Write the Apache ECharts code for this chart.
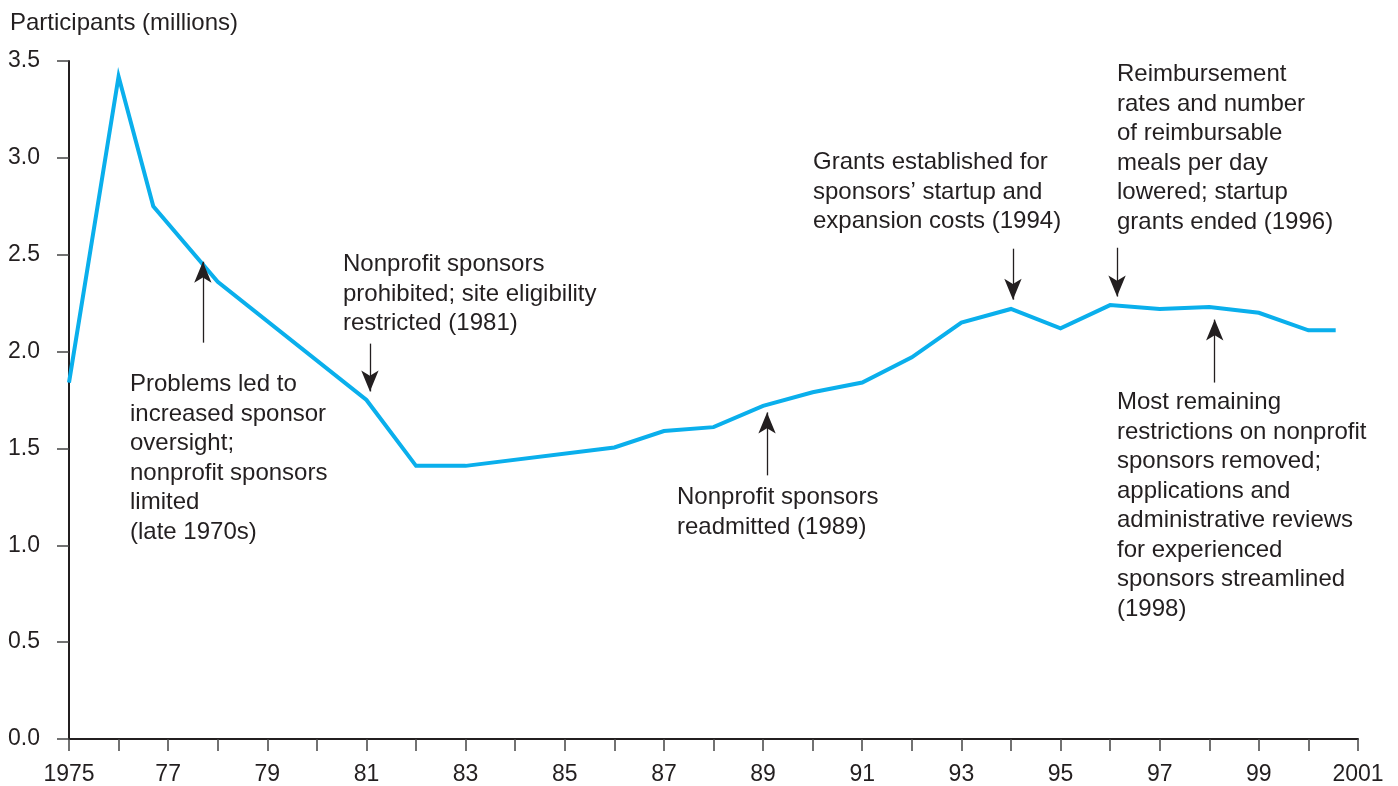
<!DOCTYPE html>
<html>
<head>
<meta charset="utf-8">
<script src="https://cdn.jsdelivr.net/npm/echarts@6/dist/echarts.min.js"></script>
<style>
  html, body { margin: 0; padding: 0; background: #fff; }
  #main { width: 1398px; height: 786px; }
</style>
</head>
<body>
<div id="main"></div>
<script>
// participants by fiscal year (1976.7 = transition quarter)
var years = [1975, 1976, 1976.7, 1978, 1981, 1982, 1983, 1986, 1987, 1988, 1989, 1990,
             1991, 1992, 1993, 1994, 1995, 1996, 1997, 1998, 1999, 2000, 2000.55];
var participants = [1.84, 3.42, 2.75, 2.36, 1.75, 1.41, 1.41, 1.505, 1.59, 1.61, 1.72, 1.79,
                    1.84, 1.97, 2.15, 2.22, 2.12, 2.24, 2.22, 2.23, 2.20, 2.11, 2.11];

// annotation arrows: [x, yStart, yTip]
var arrows = [
  [1977.70, 2.046, 2.464],
  [1981.07, 2.041, 1.794],
  [1989.08, 1.361, 1.686],
  [1994.04, 2.531, 2.268],
  [1996.14, 2.536, 2.284],
  [1998.11, 1.840, 2.165]
];

var notes = [
  { x: 130, y: 370, text: 'Problems led to\nincreased sponsor\noversight;\nnonprofit sponsors\nlimited\n(late 1970s)' },
  { x: 343, y: 250, text: 'Nonprofit sponsors\nprohibited; site eligibility\nrestricted (1981)' },
  { x: 677, y: 483, text: 'Nonprofit sponsors\nreadmitted (1989)' },
  { x: 813, y: 148, text: 'Grants established for\nsponsors\u2019 startup and\nexpansion costs (1994)' },
  { x: 1117, y: 60, text: 'Reimbursement\nrates and number\nof reimbursable\nmeals per day\nlowered; startup\ngrants ended (1996)' },
  { x: 1117, y: 388, text: 'Most remaining\nrestrictions on nonprofit\nsponsors removed;\napplications and\nadministrative reviews\nfor experienced\nsponsors streamlined\n(1998)' }
];

var FONT = '"Liberation Sans", Arial, Helvetica, sans-serif';
var INK = '#231f20';

var myChart = echarts.init(document.getElementById('main'));

var lineData = years.map(function (y, i) { return [y, participants[i]]; });

var markData = arrows.map(function (a) {
  return [
    { coord: [a[0], a[1]], symbol: 'none' },
    { coord: [a[0], a[2]], symbol: 'arrow', symbolSize: [13, 21] }
  ];
});

var option = {
  animation: false,
  title: {
    text: 'Participants (millions)',
    left: 5,
    top: 6,
    textStyle: { fontFamily: FONT, fontSize: 24, fontWeight: 'normal', color: INK }
  },
  grid: { left: 69, right: 40, top: 61, bottom: 46, containLabel: false },
  xAxis: {
    type: 'value',
    min: 1975,
    max: 2001,
    interval: 1,
    axisLine: { show: true, onZero: false, lineStyle: { color: INK, width: 2 } },
    axisTick: { show: true, inside: false, length: 12, lineStyle: { color: '#444', width: 1.5 } },
    splitLine: { show: false },
    axisLabel: {
      margin: 24,
      fontFamily: FONT,
      fontSize: 23,
      color: INK,
      showMinLabel: true,
      showMaxLabel: true,
      formatter: function (v) {
        if (v === 1975 || v === 2001) return String(v);
        return (v % 2 === 1) ? String(v).slice(2) : '';
      }
    }
  },
  yAxis: {
    type: 'value',
    min: 0,
    max: 3.5,
    interval: 0.5,
    axisLine: { show: true, lineStyle: { color: INK, width: 2 } },
    axisTick: { show: true, inside: false, length: 12, lineStyle: { color: '#444', width: 1.5 } },
    splitLine: { show: false },
    axisLabel: {
      margin: 29,
      fontFamily: FONT,
      fontSize: 23,
      color: INK,
      formatter: function (v) { return v.toFixed(1); }
    }
  },
  graphic: notes.map(function (n) {
    return {
      type: 'text',
      x: n.x,
      y: n.y,
      silent: true,
      style: {
        text: n.text,
        fontFamily: FONT,
        fontSize: 24,
        lineHeight: 29.5,
        fill: INK,
        verticalAlign: 'top'
      }
    };
  }),
  series: [{
    type: 'line',
    data: lineData,
    symbol: 'none',
    lineStyle: { color: '#0aafec', width: 4, join: 'miter' },
    markLine: {
      silent: true,
      animation: false,
      symbol: ['none', 'arrow'],
      label: { show: false },
      emphasis: { disabled: true },
      lineStyle: { color: INK, width: 1.3, type: 'solid' },
      itemStyle: { color: INK },
      data: markData
    }
  }]
};

myChart.setOption(option);
</script>
</body>
</html>
